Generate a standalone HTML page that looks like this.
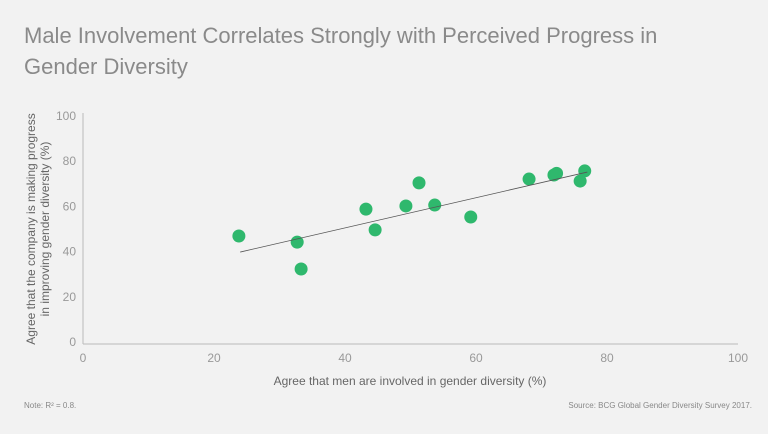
<!DOCTYPE html>
<html><head><meta charset="utf-8"><style>
body{margin:0;background:#f2f2f2;font-family:"Liberation Sans",sans-serif;}
svg{display:block}
</style></head><body>
<svg width="768" height="434">
<rect width="768" height="434" fill="#f2f2f2"/>
<text x="24" y="43" font-size="22" fill="#8a8a8a">Male Involvement Correlates Strongly with Perceived Progress in</text>
<text x="24" y="74" font-size="22" fill="#8a8a8a">Gender Diversity</text>
<g id="axes"></g>
<g id="marks"></g>
<text x="410" y="385" font-size="12" fill="#666" text-anchor="middle">Agree that men are involved in gender diversity (%)</text>
<text transform="translate(35,229) rotate(-90)" font-size="12" fill="#666" text-anchor="middle"><tspan x="0" dy="0">Agree that the company is making progress</tspan><tspan x="0" dy="14">in improving gender diversity (%)</tspan></text>
<text x="24" y="408" font-size="8" fill="#888">Note: R² = 0.8.</text>
<text x="752" y="408" font-size="8" fill="#888" text-anchor="end">Source: BCG Global Gender Diversity Survey 2017.</text>
</svg>
<script>
const xTicks=[0,20,40,60,80,100];
const yTicks=[0,20,40,60,80,100];
const xVals=[23.8,32.7,33.3,43.2,44.6,49.3,51.3,53.7,59.2,68.1,71.9,72.3,75.9,76.6];
const yVals=[46.9,44.2,32.3,58.8,49.6,60.2,70.4,60.6,55.3,72.1,73.9,74.6,71.2,75.7];
const trendX=[24,77];
const trendY=[39.8,75.2];
const NS="http://www.w3.org/2000/svg";
const sx=v=>83+v*6.55, sy=v=>342-v*2.26;
function mk(t,a,p){const e=document.createElementNS(NS,t);for(const k in a)e.setAttribute(k,a[k]);p.appendChild(e);return e;}
const ax=document.getElementById('axes'), mg=document.getElementById('marks');
let l=mk('line',{x1:83,y1:113,x2:83,y2:344,stroke:'#bbb'},ax);


l=mk('line',{x1:83,y1:344,x2:738,y2:344,stroke:'#bbb'},ax);


xTicks.forEach(v=>{const t=mk('text',{x:sx(v),y:362,'font-size':12,fill:'#999','text-anchor':'middle'},ax);t.textContent=v;

});
yTicks.forEach(v=>{const t=mk('text',{x:76,y:sy(v)+4,'font-size':12,fill:'#999','text-anchor':'end'},ax);t.textContent=v;

});
xVals.forEach((x,i)=>{const c=mk('circle',{cx:sx(x),cy:sy(yVals[i]),r:6.5,fill:'#2fb86d'},mg);

});
const tl=mk('line',{x1:sx(trendX[0]),y1:sy(trendY[0]),x2:sx(trendX[1]),y2:sy(trendY[1]),stroke:'#555','stroke-width':0.8},mg);


</script>
</body></html>
